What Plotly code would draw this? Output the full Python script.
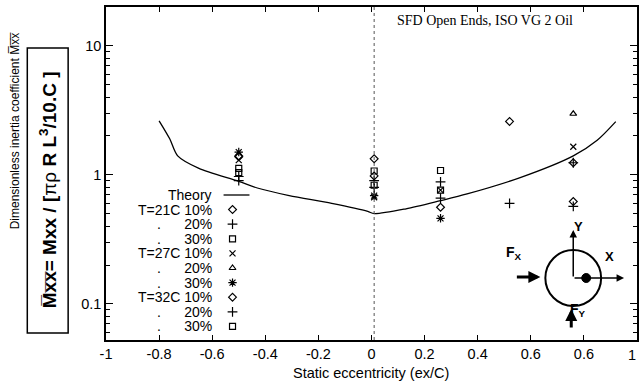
import plotly.graph_objects as go

# ---------------- data ----------------
x_ecc = [-0.5, 0.01, 0.26, 0.52, 0.76]
t21_10 = [1.40, 1.33, 0.56, 2.59, 1.24]
t21_20 = [0.97, 0.90, 0.88, 0.60, 1.24]
t21_30 = [1.12, 1.07, 1.08, None, None]
t27_10 = [1.30, 0.67, 0.76, None, 1.65]
t27_20 = [None, None, None, None, 2.97]
t27_30 = [1.50, 0.69, 0.46, None, None]
t32_10 = [1.38, 0.98, None, None, 0.62]
t32_20 = [0.90, 0.80, 0.66, None, 0.57]
t32_30 = [1.04, 0.83, 0.76, None, None]

theory_x = [-0.80, -0.76, -0.73, -0.65, -0.50, -0.43, -0.31, -0.15, -0.014, 0.01,
            0.13, 0.26, 0.36, 0.56, 0.76, 0.85, 0.92]
theory_y = [2.62, 1.90, 1.40, 1.12, 0.89, 0.79, 0.69, 0.60, 0.52, 0.50,
            0.545, 0.63, 0.71, 0.95, 1.40, 1.85, 2.58]

x_tickvals = [-1, -0.8, -0.6, -0.4, -0.2, 0, 0.2, 0.4, 0.6, 0.8, 1]
x_ticktext = ["-1", "-0.8", "-0.6", "-0.4", "-0.2", "0", "0.2", "0.4", "0.6", "0.6", ""]
x_last_label = "1"
y_tickvals = [0.1, 1, 10]
y_ticktext = ["0.1", "1", "10"]

series = [
    ("T=21C", "10%", t21_10, "diamond-open"),
    (".", "20%", t21_20, "cross-thin-open"),
    (".", "30%", t21_30, "square-open"),
    ("T=27C", "10%", t27_10, "x-thin-open"),
    (".", "20%", t27_20, "triangle-up-open"),
    (".", "30%", t27_30, "asterisk-open"),
    ("T=32C", "10%", t32_10, "diamond-open"),
    (".", "20%", t32_20, "cross-thin-open"),
    (".", "30%", t32_30, "square-open"),
]

# ---------------- layout geometry (pixels) ----------------
W, H = 641, 384
ML, MR, MT, MB = 106, 2, 7, 44
PW, PH = W - ML - MR, H - MT - MB


def px(p):
    return (p - ML) / PW


def py(p):
    return (H - MB - p) / PH


FONT = "Liberation Sans, Arial, Helvetica, sans-serif"
SERIF = "Liberation Serif, Times New Roman, serif"

fig = go.Figure()

fig.add_trace(go.Scatter(x=theory_x, y=theory_y, mode="lines",
                         line=dict(color="black", width=1.3, shape="spline", smoothing=0.8),
                         showlegend=False, hoverinfo="skip"))

sizes = {"diamond-open": 6, "cross-thin-open": 7, "square-open": 6, "x-thin-open": 6,
         "triangle-up-open": 6, "asterisk-open": 7}

for lab, pct, vals, sym in series:
    fig.add_trace(go.Scatter(x=x_ecc, y=vals, mode="markers",
                             marker=dict(symbol=sym, size=sizes[sym], color="black",
                                         line=dict(color="black", width=1.2)),
                             showlegend=False, name=lab + " " + pct))

# ---------------- hand-drawn legend ----------------
row0, dy = 195, 14.6
annotations = []
lf = dict(family=FONT, size=14, color="black")
annotations.append(dict(x=px(214), y=py(row0), xref="paper", yref="paper", text="Theory", showarrow=False,
                        xanchor="right", yanchor="middle", font=lf))
for i, (lab, pct, vals, sym) in enumerate(series):
    yy = row0 + dy * (i + 1)
    if lab == ".":
        txt = "." + "&nbsp;" * 6 + pct
    else:
        txt = lab + " " + pct
    annotations.append(dict(x=px(214), y=py(yy), xref="paper", yref="paper", text=txt, showarrow=False,
                            xanchor="right", yanchor="middle", font=lf))
    fig.add_trace(go.Scatter(x=[233], y=[yy], xaxis="x2", yaxis="y2", mode="markers",
                             marker=dict(symbol=sym, size=sizes[sym], color="black",
                                         line=dict(color="black", width=1.2)),
                             showlegend=False, hoverinfo="skip"))
fig.add_trace(go.Scatter(x=[224, 250], y=[row0, row0], xaxis="x2", yaxis="y2", mode="lines",
                         line=dict(color="black", width=1.3), showlegend=False, hoverinfo="skip"))

# ---------------- texts ----------------
OV = "\u0305"
mxx_ov = "M" + OV + "x" + OV + "x" + OV
annotations += [
    dict(x=px(486), y=py(20), xref="paper", yref="paper", text="SFD Open Ends, ISO VG 2 Oil", showarrow=False,
         xanchor="center", yanchor="middle", font=dict(family=SERIF, size=14, color="black")),
    dict(x=px(15), y=py(131), xref="paper", yref="paper", text="Dimensionless inertia coefficient " + mxx_ov,
         showarrow=False, textangle=-90, xanchor="center", yanchor="middle",
         font=dict(family=FONT, size=12, color="black")),
    dict(x=px(48), y=py(190), xref="paper", yref="paper",
         text="<b>" + mxx_ov + "= Mxx / [</b>\u03c0\u03c1<b> R L<sup>3</sup>/10.C ]</b>",
         showarrow=False, textangle=-90, xanchor="center", yanchor="middle",
         font=dict(family=FONT, size=19, color="black")),
    dict(x=px(634), y=py(355), xref="paper", yref="paper", text=x_last_label, showarrow=False,
         xanchor="center", yanchor="middle",
         font=dict(family=FONT, size=14.5, color="black")),
    # inset diagram labels and arrows
    dict(x=px(575), y=py(230), xref="paper", yref="paper", ax=0, ay=48, text="", showarrow=True,
         arrowhead=2, arrowsize=1, arrowwidth=1.5, arrowcolor="black"),
    dict(x=px(587), y=py(236), xref="paper", yref="paper", text="<b>Y</b>", showarrow=False,
         font=dict(family=FONT, size=13, color="black")),
    dict(x=px(626), y=py(278), xref="paper", yref="paper", ax=-51, ay=0, text="", showarrow=True,
         arrowhead=2, arrowsize=1, arrowwidth=1.5, arrowcolor="black"),
    dict(x=px(618), y=py(266), xref="paper", yref="paper", text="<b>X</b>", showarrow=False,
         font=dict(family=FONT, size=13, color="black")),
    dict(x=px(542), y=py(277), xref="paper", yref="paper", ax=-25, ay=0, text="", showarrow=True,
         arrowhead=2, arrowsize=0.8, arrowwidth=3, arrowcolor="black"),
    dict(x=px(526), y=py(264), xref="paper", yref="paper", text="<b>F<sub>X</sub></b>", showarrow=False,
         font=dict(family=FONT, size=14, color="black")),
    dict(x=px(573), y=py(309), xref="paper", yref="paper", ax=0, ay=20, text="", showarrow=True,
         arrowhead=2, arrowsize=0.8, arrowwidth=3, arrowcolor="black"),
    dict(x=px(590), y=py(321), xref="paper", yref="paper", text="<b>F<sub>Y</sub></b>", showarrow=False,
         font=dict(family=FONT, size=14, color="black")),
    dict(x=px(372), y=py(373), xref="paper", yref="paper", text="Static eccentricity (ex/C)", showarrow=False,
         xanchor="center", yanchor="middle", font=dict(family=FONT, size=14.5, color="black")),
]

shapes = [
    dict(type="line", xref="x", yref="paper", x0=0.01, x1=0.01, y0=0, y1=1,
         line=dict(color="#555555", width=1, dash="dot")),
    dict(type="rect", xref="paper", yref="paper", x0=px(27), x1=px(68), y0=py(333), y1=py(48),
         line=dict(color="black", width=1.5)),
    dict(type="circle", xref="paper", yref="paper", x0=px(547), x1=px(603), y0=py(306), y1=py(250),
         line=dict(color="black", width=2)),
    dict(type="circle", xref="paper", yref="paper", x0=px(583.5), x1=px(592.5), y0=py(282.5), y1=py(273.5),
         line=dict(color="black", width=1), fillcolor="black"),
]

fig.update_layout(
    width=W, height=H, autosize=False,
    margin=dict(l=ML, r=MR, t=MT, b=MB),
    paper_bgcolor="white", plot_bgcolor="white",
    font=dict(family=FONT, size=14.5, color="black"),
    xaxis=dict(range=[-1, 1], tickvals=x_tickvals, ticktext=x_ticktext, ticks="inside", ticklen=5,
               tickwidth=1.2, tickcolor="black", showline=True, linecolor="black", linewidth=1.6,
               mirror="ticks", showgrid=False, zeroline=False, tickfont=dict(size=14.5)),
    yaxis=dict(type="log", range=[-1.28, 1.30], tickvals=y_tickvals, ticktext=y_ticktext, ticks="inside",
               ticklen=7, tickwidth=1.2, tickcolor="black", showline=True, linecolor="black", linewidth=1.6,
               mirror="ticks", showgrid=False, zeroline=False, tickfont=dict(size=14.5),
               minor=dict(ticks="inside", ticklen=4, tickcolor="black", tickwidth=1,
                          tickvals=[0.06, 0.07, 0.08, 0.09, 0.2, 0.3, 0.4, 0.5, 0.6, 0.7, 0.8, 0.9,
                                    2, 3, 4, 5, 6, 7, 8, 9, 20])),
    xaxis2=dict(range=[ML, W - MR], overlaying="x", visible=False, domain=[0, 1]),
    yaxis2=dict(range=[H - MB, MT], overlaying="y", visible=False, domain=[0, 1]),
    annotations=annotations,
    shapes=shapes,
    showlegend=False,
)

fig.write_html("out.html")
